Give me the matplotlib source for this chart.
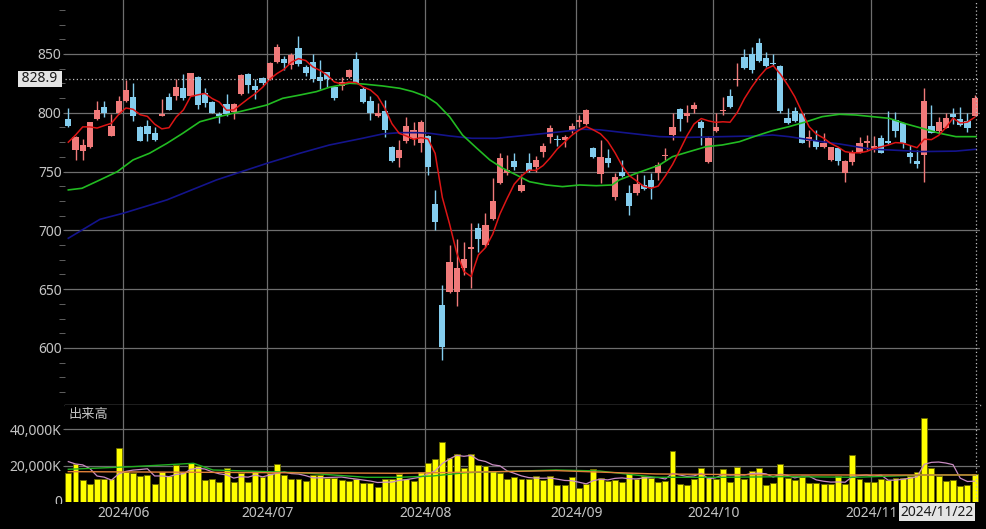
import matplotlib
matplotlib.use("Agg")
import matplotlib.pyplot as plt
import matplotlib.transforms as mtransforms
from matplotlib.ticker import MultipleLocator, FuncFormatter
import numpy as np
import pandas as pd

plt.rcParams['font.family'] = ['Noto Sans', 'Noto Sans CJK JP', 'DejaVu Sans']

# daily candles, 2024/05/22 .. 2024/11/22 (trading days)
opens = [794.4, 768, 767.5, 771, 794.4, 804.6, 780.6, 800, 810, 813,
         787.6, 789, 783, 797.3, 813, 814.6, 820.8, 814.6, 830.7, 817,
         809.5, 799.3, 807.5, 801, 815.7, 833, 823, 829.3, 828.5, 843,
         845.7, 841, 854.8, 838.7, 843.5, 830.2, 834.4, 822, 823, 830.2,
         845.7, 820, 810, 797.3, 801.8, 770.6, 761.3, 776.3, 777.7, 774.6,
         780.3, 722.4, 636.6, 647.9, 647.9, 668.3, 684.5, 701.8, 687.6, 709.4,
         740, 749.1, 759, 733.8, 757.6, 753.6, 767, 779.1, 778, 777,
         784.5, 792.5, 790.5, 769.8, 748, 761.3, 728.1, 750, 732, 731.5,
         738.6, 742.9, 749.1, 763, 781.1, 803.2, 797.3, 803, 792.5, 757.9,
         784.8, 801.3, 814.6, 827.5, 847.2, 850, 859.1, 846.3, 842.5, 839.8,
         795.8, 801.5, 799, 776.3, 776.3, 771.2, 759.9, 769.8, 749.1, 758.4,
         766.1, 774, 769.2, 778.8, 776, 793.9, 791, 766.1, 759, 764.1,
         788.8, 784.5, 787.4, 798.7, 794.4, 793.3, 797.6]
highs = [804, 780, 778, 792.5, 810, 810, 799, 814, 828, 825,
         788.5, 794, 788, 811.5, 817, 829, 832.7, 834, 831.3, 820.8,
         810, 801, 816, 808, 832.7, 833.6, 829, 830.7, 843.5, 858.5,
         848, 851, 865, 841, 850, 845, 835, 823, 830, 837,
         852, 822, 814, 808, 811, 771.7, 777, 796.7, 792.5, 794,
         781, 734.4, 653.6, 687.6, 692.4, 690.4, 706, 706, 714.5, 744.3,
         765.5, 764, 766, 748, 765.5, 763.3, 774, 789.6, 781, 781,
         791, 798, 803, 771.2, 777, 769, 749.1, 760, 738.6, 748,
         747, 749, 758.4, 770, 799.5, 803.8, 806.6, 809.5, 794, 780,
         800, 813.7, 820, 842, 854, 856, 863.3, 852, 850, 841,
         803.8, 805, 800, 785.4, 785, 782.7, 771.2, 771.2, 760, 768.4,
         779.7, 781.1, 780.5, 781, 801.5, 800.4, 792.5, 772.6, 768.4, 820.8,
         806.6, 796.7, 799.5, 803.8, 805, 799.5, 815]
lows = [788, 760, 760, 770, 794, 796, 780, 799, 809, 793,
        776, 776, 776, 797, 802, 811, 811, 814, 803, 804.6,
        799.5, 791.6, 797, 794.4, 815, 817, 811.5, 823.6, 828, 842,
        836, 837, 840, 831, 826, 820, 821.7, 811, 819, 829.6,
        825, 808, 794, 796, 779.7, 758.4, 754, 774, 772.6, 767,
        747, 700, 589.4, 647, 635.7, 662, 650.7, 682, 686, 708.8,
        739.5, 747, 751.4, 733, 750, 750, 762.7, 774, 771.8, 771,
        782.5, 788, 789.6, 761.3, 740, 753.6, 725.9, 745.7, 713, 730,
        734.4, 726.4, 743, 760, 776.9, 784.8, 792.5, 799.5, 772.6, 757,
        784, 798, 803.8, 822.8, 837, 833.6, 843.5, 839, 840, 800,
        790.5, 792, 774, 771.2, 769, 769.8, 759, 755.6, 741.4, 756,
        765.5, 768.4, 767, 765.5, 773.5, 779.1, 769.8, 757.6, 752.8, 741.4,
        782.5, 782.5, 786.8, 790.5, 788.8, 784, 797]
closes = [789, 779, 772.6, 792, 802.4, 799.5, 789, 810, 819.4, 797,
          776.3, 782, 777, 799.3, 802, 821.7, 812.3, 833.6, 806.6, 808,
          800, 797.3, 799, 807.5, 832, 823.6, 819.4, 825.6, 842, 856,
          842, 849, 841.2, 834, 828.7, 827.3, 828.5, 812.3, 826, 836.4,
          825.6, 809, 800, 799.5, 785.4, 759.3, 768.4, 788.8, 785.4, 792.2,
          754.2, 706.9, 601.1, 673.4, 668.3, 675.4, 685.6, 692.7, 704.6, 725.3,
          761.3, 751.4, 754.2, 738.6, 750.8, 759.9, 771.8, 787.4, 777, 779,
          789, 794, 802.4, 762.7, 762, 757.6, 745.7, 746.5, 720.8, 739.5,
          735, 737.2, 755.6, 764, 788.2, 794.4, 799.4, 806.6, 786.8, 778.3,
          788.2, 801.8, 804.7, 828, 837.8, 836.4, 844.3, 840, 841.7, 801.5,
          791.6, 793.3, 774.6, 779.2, 770.7, 774.6, 770.7, 759.3, 759.3, 766.1,
          774.6, 776.3, 772.1, 766.1, 774, 784.8, 774, 762.2, 756.5, 810,
          783.1, 791.9, 795.3, 796.7, 789.6, 786.8, 812.3]
# volume in thousand shares
volumes = [15890, 21000, 12230, 10040, 12780, 12780, 12780, 29580, 16800, 16250,
           14430, 14790, 9860, 16800, 14430, 20450, 16800, 21730, 19900, 12230,
           12780, 11320, 18990, 10960, 16250, 11320, 17160, 14060, 15890, 21000,
           14970, 12780, 12780, 11500, 14970, 14970, 13510, 13510, 12230, 11870,
           12600, 10770, 10770, 8220, 12780, 12780, 15520, 12780, 11690, 16430,
           21360, 23740, 33050, 24100, 26480, 18630, 26300, 20450, 19900, 17350,
           15890, 12600, 13700, 12780, 12780, 14430, 12230, 14430, 9500, 9310,
           13700, 8030, 10040, 18260, 13150, 11870, 12230, 11320, 15890, 12780,
           14430, 13510, 11320, 11690, 28300, 10040, 9500, 12780, 18630, 13510,
           12780, 18260, 11320, 19540, 12780, 17160, 18990, 9500, 10770, 20820,
           13510, 12230, 14060, 10770, 10770, 9860, 9860, 14430, 10040, 26110,
           12780, 11320, 11320, 12780, 12230, 13150, 13510, 14430, 16800, 46020,
           18630, 14430, 11690, 12230, 9130, 9500, 15340]

# moving averages (values before the first candle are not shown)
ma5_head = [775, 781, 788, 788]
ma25_x = [0, 1.9, 4.4, 6.8, 9.0, 11.3, 13.7, 15.9, 18.3, 20.6, 22.9, 25.2, 27.6, 29.8, 32.2,
          34.5, 36.3, 39.1, 40.9, 43.7, 46.1, 47.9, 49.8, 51.2, 53.0, 54.8, 56.8, 58.6, 60.4, 62.3,
          64.1, 66.5, 68.7, 71.1, 73.4, 75.6, 76.6, 79.0, 82.2, 84.0, 86.3, 88.7, 90.9, 93.3, 95.6,
          97.9, 100.2, 102.6, 104.8, 107.2, 109.5, 111.8, 114.1, 116.5, 118.7, 121.1, 123.4, 126.2]
ma25_y = [734.4, 735.8, 742.9, 749.9, 759.9, 765.6, 774, 782.5, 792.4, 796.2, 799.6, 803, 806.6, 812.3, 815.1,
          818, 821.7, 825.1, 824.5, 822.8, 820.8, 818, 813.7, 808.1, 796.7, 781.1, 769.8, 759.9, 752.8, 747.1,
          741.4, 738.6, 737.2, 738.6, 738, 738.6, 742.9, 748.6, 755.6, 762.7, 766.9, 771.2, 772.6, 775.4, 780.3,
          784.8, 788.2, 792.4, 796.7, 798.7, 798.1, 796.7, 795.3, 790.5, 786.8, 782.6, 779.7, 779.7]
ma75_x = [0, 4.4, 7.6, 13.7, 20.6, 27.6, 32.2, 36.3, 40.9, 43.7, 46.1, 48.4, 50.2, 53.0, 56.1, 59.5, 64.1, 68.7,
          71.5, 73.9, 78.0, 82.2, 86.3, 90.9, 95.6, 97.9, 100.2, 104.8, 107.2, 109.5, 111.8, 114.1, 118.7, 123.4, 126.2]
ma75_y = [693.3, 709.4, 714.5, 725.9, 742.9, 757, 765.6, 772.6, 778.3, 782, 783.1, 783.1, 782.6, 780.3, 778.3, 778.3,
          781.1, 784, 786, 785.5, 782.6, 779.7, 779.1, 779.7, 780.3, 781.1, 779.7, 775.4, 773.5, 771.2, 769, 768.4,
          767, 767.4, 769]
vma5_head = [22280, 21000, 20500, 18500]
vma25_x = [0, 9, 17.4, 20.1, 27.6, 32.2, 41.4, 46.1, 50.7, 55.3, 60, 67.8, 73.8, 81.7, 91, 100.2, 109.5, 118.8, 126.2]
vma25_y = [18080, 19540, 21360, 17700, 16800, 16250, 13700, 13700, 14430, 16250, 16800, 17700, 17160, 13700,
           13700, 14060, 13700, 14970, 14970]
vma75_x = [0, 27.6, 46.1, 60, 67.8, 81.7, 100.2, 118.8, 126.2]
vma75_y = [16800, 16250, 15890, 16800, 17350, 15520, 14970, 14970, 14970]

month_labels = ['2024/06', '2024/07', '2024/08', '2024/09', '2024/10', '2024/11']
month_start = [8, 28, 50, 71, 90, 112]
last_label = '2024/11/22'
cursor_price = 828.9

UP = '#f07a7a'
DOWN = '#84cdee'
GRID = '#6e6e6e'
TXT = '#c4c4c4'

n = len(closes)
idx = np.arange(n)
o = np.array(opens); c = np.array(closes)
h = np.array(highs); l = np.array(lows)
up = c >= o
colors = np.where(up, UP, DOWN)

ma5 = pd.Series(closes).rolling(5).mean().to_numpy()
ma5[:4] = ma5_head
vma5 = pd.Series(volumes).rolling(5).mean().to_numpy()
vma5[:4] = vma5_head

W, H = 987, 529
fig = plt.figure(figsize=(W / 100, H / 100), dpi=100, facecolor='black')
ax = fig.add_axes([65 / W, 124 / H, 915 / W, 405 / H], facecolor='black')
axv = fig.add_axes([65 / W, 26.7 / H, 915 / W, 97.3 / H], facecolor='black', sharex=ax)

xlim = (-0.46, 126.75)
grid_x = [m - 0.35 for m in month_start]

# ---- price panel
ax.set_xlim(*xlim)
ax.set_ylim(551.5, 895.9)
for gx in grid_x:
    ax.axvline(gx, color=GRID, lw=0.9, zorder=0)
for gy in [600, 650, 700, 750, 800, 850]:
    ax.axhline(gy, color=GRID, lw=0.9, zorder=0)

ax.vlines(idx, l, h, colors=colors, lw=1.0, zorder=2)
body_h = np.maximum(np.abs(c - o), 0.8)
ax.bar(idx, body_h, bottom=np.minimum(o, c), width=0.86, color=colors, lw=0, zorder=3)

ax.plot(ma75_x, ma75_y, color='#14148c', lw=1.2, zorder=4)
ax.plot(ma25_x, ma25_y, color='#22bb22', lw=1.2, zorder=4)
ax.plot(idx, ma5, color='#dd1515', lw=1.1, zorder=5)

ax.axhline(cursor_price, color='#bdbdbd', lw=0.9, ls=(0, (1, 2)), zorder=6)
ax.axvline(126.15, color='#bdbdbd', lw=0.9, ls=(0, (1, 2)), zorder=6)

ax.set_yticks([600, 650, 700, 750, 800, 850])
ax.yaxis.set_minor_locator(MultipleLocator(12.5))
ax.tick_params(axis='y', which='major', length=1.5, pad=1, colors=GRID, labelcolor=TXT, labelsize=10)
ax.tick_params(axis='y', which='minor', length=4.5, colors=GRID)
ax.tick_params(axis='x', which='both', length=0, labelbottom=False)
for s in ['top', 'left', 'right']:
    ax.spines[s].set_visible(False)
ax.spines['bottom'].set_color('#9a9a9a')
ax.spines['bottom'].set_linewidth(1.0)

yt = mtransforms.blended_transform_factory(ax.transAxes, ax.transData)
# the 900 label sits above the top edge, only its lower part shows (as in the original)
ax.text(-0.003, 900, '900', transform=yt, ha='right', va='center', color=TXT, fontsize=10, clip_on=False)
ax.text(-0.004, cursor_price, ' 828.9 ', transform=yt, ha='right', va='center', color='#1a1a1a',
        fontsize=10, zorder=10, clip_on=False,
        bbox=dict(boxstyle='square,pad=0.05', fc='#e4e4e4', ec='none'))

# ---- volume panel
axv.set_ylim(0, 53300)
for gx in grid_x:
    axv.axvline(gx, color=GRID, lw=0.9, zorder=0)
for gy in [20000, 40000]:
    axv.axhline(gy, color=GRID, lw=0.9, zorder=0)
axv.bar(idx, volumes, width=0.82, color='#ffff00', edgecolor='#6a6a00', lw=0.6, zorder=2)
axv.plot(idx, vma5, color='#c98cc2', lw=0.9, zorder=4)
axv.plot(vma25_x, vma25_y, color='#22b022', lw=1.0, zorder=4)
axv.plot(vma75_x, vma75_y, color='#e0803a', lw=1.0, zorder=4)
axv.axvline(126.15, color='#bdbdbd', lw=0.9, ls=(0, (1, 2)), zorder=6)

axv.set_yticks([20000, 40000])
axv.yaxis.set_major_formatter(FuncFormatter(lambda v, p: f'{int(v):,}K'))
axv.tick_params(axis='y', length=1.5, pad=1, colors=GRID, labelcolor=TXT, labelsize=10)
axv.set_xticks(grid_x)
axv.set_xticklabels(month_labels)
axv.tick_params(axis='x', length=0, pad=3, labelcolor=TXT, labelsize=10)
for s in axv.spines.values():
    s.set_visible(False)

vt = mtransforms.blended_transform_factory(axv.transAxes, axv.transData)
zero = axv.text(-0.003, 0, '0', transform=vt, ha='right', va='center', color=TXT, fontsize=10)
zero.set_clip_path(None)
zero.set_clip_box(mtransforms.Bbox.from_extents(0, 25.5, 70, 60))
zero.set_clip_on(True)

axv.text(0.004, 0.9, '出来高', transform=axv.transAxes, ha='left', va='center',
         color=TXT, fontsize=9.5, family=['Noto Sans CJK JP', 'DejaVu Sans'])

xt = mtransforms.blended_transform_factory(axv.transData, axv.transAxes)
axv.text(125.85, -0.1, last_label, transform=xt, ha='right', va='center', color='#1a1a1a',
         fontsize=10, zorder=10, clip_on=False,
         bbox=dict(boxstyle='square,pad=0.12', fc='#e4e4e4', ec='none'))

fig.savefig('out.png', dpi=100, facecolor='black')
